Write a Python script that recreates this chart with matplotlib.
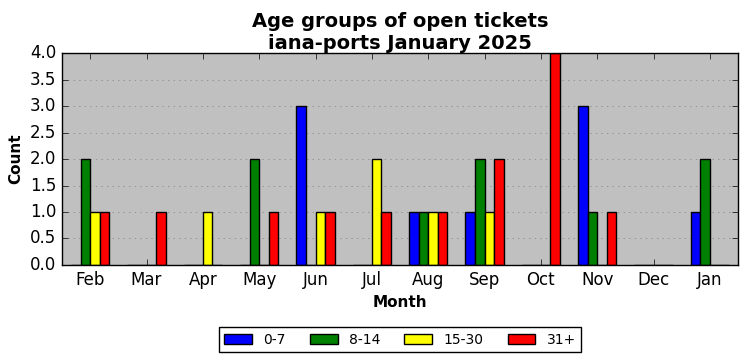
import matplotlib
matplotlib.use("Agg")
import matplotlib.pyplot as plt
import numpy as np

plt.style.use("classic")

months = ["Feb", "Mar", "Apr", "May", "Jun", "Jul", "Aug", "Sep", "Oct", "Nov", "Dec", "Jan"]
age_0_7 = [0, 0, 0, 0, 3, 0, 1, 1, 0, 3, 0, 1]
age_8_14 = [2, 0, 0, 2, 0, 0, 1, 2, 0, 1, 0, 2]
age_15_30 = [1, 0, 1, 0, 1, 2, 1, 1, 0, 0, 0, 0]
age_31p = [1, 1, 0, 1, 1, 1, 1, 2, 4, 1, 0, 0]
series = [("0-7", age_0_7, "blue"), ("8-14", age_8_14, "green"),
          ("15-30", age_15_30, "yellow"), ("31+", age_31p, "red")]

fig = plt.figure(figsize=(7.47, 3.61), dpi=100, facecolor="white")
ax = fig.add_axes([0.083, 0.266, 0.905, 0.587])
ax.set_facecolor("silver")

x = np.arange(len(months))
w = 0.17
for i, (lab, vals, col) in enumerate(series):
    ax.bar(x + (i - 1.5) * w, vals, w, color=col, edgecolor="black", linewidth=1, label=lab, align="center")

ax.set_xlim(-0.5, len(months) - 0.5)
ax.set_ylim(0, 4)
ax.set_yticks(np.arange(0, 4.01, 0.5))
ax.set_xticks(x)
ax.set_xticklabels(months)
ax.yaxis.grid(True, linestyle=":", color="gray")
ax.set_axisbelow(True)
ax.set_xlabel("Month", fontweight="bold", fontsize=11)
ax.set_ylabel("Count", fontweight="bold", fontsize=11)
ax.set_title("Age groups of open tickets\niana-ports January 2025", fontweight="bold", fontsize=14, y=0.985)
ax.tick_params(labelsize=12)
ax.legend(loc="upper center", bbox_to_anchor=(0.5, -0.26), ncol=4, fontsize=10, frameon=True,
          columnspacing=1.75)

fig.savefig("out.png", dpi=100, facecolor="white")
